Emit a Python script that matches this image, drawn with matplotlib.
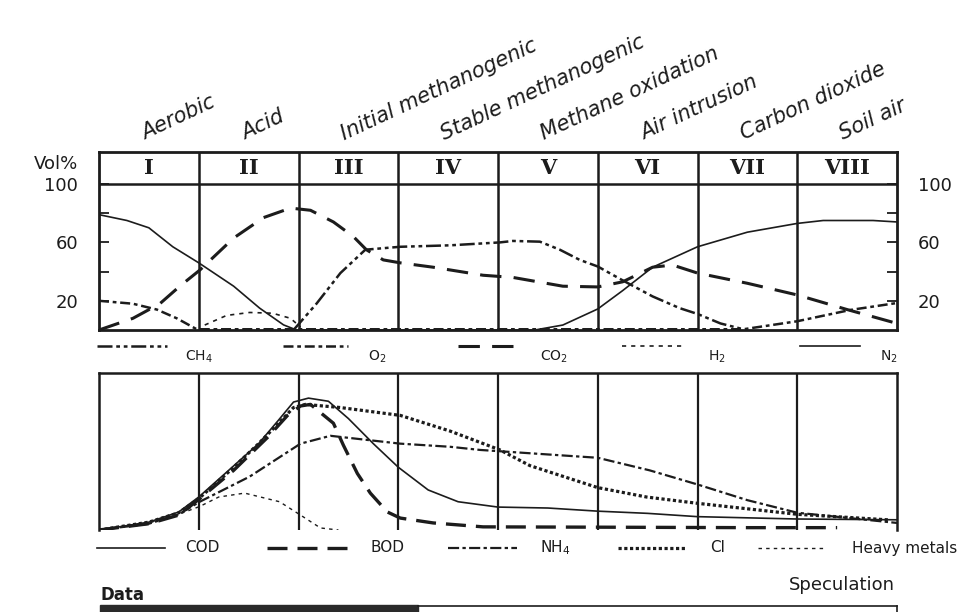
import matplotlib.pyplot as plt
from matplotlib.patches import Rectangle

W, H = 966, 612
INK = '#1c1c1c'

phase_numerals = ["I", "II", "III", "IV", "V", "VI", "VII", "VIII"]
phase_names = ["Aerobic", "Acid", "Initial methanogenic", "Stable methanogenic",
               "Methane oxidation", "Air intrusion", "Carbon dioxide", "Soil air"]

# gas composition (vol%), x in phase units 0..8
ch4_x = [1.95, 2.18, 2.42, 2.67, 3.02, 3.52, 4.02, 4.15, 4.42, 4.62, 4.82, 5.0, 5.25, 5.55, 5.82, 6.0, 6.23, 6.46]
ch4_y = [0, 18, 39, 55, 57, 58, 60, 61, 60.5, 55, 48, 43.5, 34, 23, 15, 11, 4.5, 0.5]

o2_x = [0, 0.34, 0.58, 0.78, 0.98, 6.46, 7.0, 7.53, 8.0]
o2_y = [20, 18, 14, 8, 0.5, 0.5, 6, 13.7, 18.5]

co2_x = [0, 0.34, 0.61, 0.81, 1.01, 1.35, 1.65, 1.92, 2.12, 2.35, 2.55, 2.68, 2.85,
         3.02, 3.35, 3.85, 4.15, 4.65, 5.0, 5.25, 5.55, 5.75, 6.0, 6.5, 7.0, 7.5, 8.0]
co2_y = [0, 8, 18, 30, 41, 63, 77, 83.5, 82, 74, 64, 55, 48,
         46, 43, 37.5, 36, 30, 29.5, 33, 43, 44.5, 39, 32, 24, 14, 4.5]

h2_x = [1.06, 1.28, 1.51, 1.74, 1.92, 2.02]
h2_y = [3.4, 10, 12, 11.5, 8, 2]

n2_x = [0, 0.28, 0.5, 0.74, 1.0, 1.35, 1.61, 1.85, 1.98,
        4.37, 4.65, 5.0, 5.25, 5.55, 6.0, 6.5, 7.0, 7.26, 7.76, 8.0]
n2_y = [79, 75, 70, 57, 46, 30, 15, 3.5, 0,
        0, 3.4, 14.4, 27, 43, 57, 67, 73, 75, 75, 74]

# leachate (relative concentration)
cod_x = [0, 0.5, 0.8, 1.0, 1.3, 1.6, 1.8, 1.95, 2.1, 2.3, 2.5, 2.75, 3.0, 3.3, 3.6, 4.0, 4.5, 5.0, 5.5, 6.0, 7.0, 8.0]
cod_y = [0, 5, 11.5, 21, 38, 55, 70, 81.5, 84, 82, 71, 55, 40, 25.5, 18, 14.6, 14, 12, 10.6, 8.5, 7, 6.5]

bod_x = [0, 0.5, 0.8, 1.01, 1.35, 1.69, 1.89, 2.02, 2.12, 2.35, 2.45, 2.59, 2.72, 2.89, 3.02, 3.35, 3.85, 5.0, 6.5, 7.4]
bod_y = [0, 4, 9.5, 20, 38, 59, 73, 79, 80, 68, 54, 36, 23.5, 11.5, 7.6, 4.5, 2, 1.8, 1.5, 1.5]

nh4_x = [0, 0.5, 0.8, 1.01, 1.51, 2.02, 2.32, 3.02, 3.52, 3.82, 5.0, 5.52, 6.0, 6.5, 7.0, 8.0]
nh4_y = [0, 4, 10, 18, 34, 55, 60, 55, 53, 51, 46, 38, 29, 19, 11, 4.5]

cl_x = [0, 0.5, 0.8, 1.0, 1.3, 1.6, 1.8, 1.95, 2.07, 2.42, 3.02, 3.52, 4.02, 4.32, 5.0, 5.49, 6.0, 7.0, 7.93]
cl_y = [0, 5, 11, 20, 37, 55, 68, 78, 80, 78, 73, 63, 51, 41, 27, 21, 17, 10, 6.4]

hm_x = [0, 0.51, 0.8, 1.01, 1.2, 1.46, 1.81, 2.02, 2.22, 2.4]
hm_y = [0, 5, 10, 15, 21, 23.5, 18, 9.5, 1.3, 0]


def px_box(x0, y0, x1, y1):
    return [x0 / W, 1 - y1 / H, (x1 - x0) / W, (y1 - y0) / H]


fig = plt.figure(figsize=(W / 100, H / 100), dpi=100)
fig.patch.set_facecolor('white')

over = fig.add_axes([0, 0, 1, 1])
over.set_xlim(0, W)
over.set_ylim(H, 0)
over.axis('off')

top_styles = {
    'CH4': dict(dashes=(6, 1.5, 1.5, 1.5, 1.5, 1.5), lw=1.8),
    'O2': dict(dashes=(4, 1.5, 1.5, 1.5), lw=1.8),
    'CO2': dict(dashes=(7, 4), lw=2.2),
    'H2': dict(dashes=(2.5, 3), lw=1.2),
    'N2': dict(ls='-', lw=1.2),
}
bot_styles = {
    'COD': dict(ls='-', lw=1.2),
    'BOD': dict(dashes=(6, 3), lw=2.4),
    'NH4': dict(dashes=(5, 1.5, 1.5, 1.5), lw=1.6),
    'Cl': dict(dashes=(1, 0.8), lw=2.3),
    'HM': dict(dashes=(2.5, 3), lw=1.0),
}

# ---- upper panel: landfill gas ----
ax1 = fig.add_axes(px_box(99, 152, 897, 330))
head = 100 + 32 / 146 * 100
ax1.set_xlim(0, 8)
ax1.set_ylim(0, head)
ax1.axhline(100, color=INK, lw=1.8)
for i in range(1, 8):
    ax1.axvline(i, color=INK, lw=1.8)
for i, r in enumerate(phase_numerals):
    ax1.text(i + 0.5, (100 + head) / 2, r, ha='center', va='center',
             family='DejaVu Serif', fontweight='bold', fontsize=15, color=INK)

ax1.plot(n2_x, n2_y, color=INK, **top_styles['N2'])
ax1.plot(co2_x, co2_y, color=INK, **top_styles['CO2'])
ax1.plot(ch4_x, ch4_y, color=INK, **top_styles['CH4'])
ax1.plot(o2_x, o2_y, color=INK, **top_styles['O2'])
ax1.plot(h2_x, h2_y, color=INK, **top_styles['H2'])

ax1.set_xticks([])
ax1.set_yticks([20, 40, 60, 80, 100])
ax1.set_yticklabels(['20', '', '60', '', '100'])
ax1.tick_params(axis='y', direction='in', length=7, width=1.3, left=True, right=True,
                labelleft=True, labelright=True, pad=15, labelsize=13, colors=INK)
for s in ax1.spines.values():
    s.set_linewidth(2)
    s.set_color(INK)

# ---- lower panel: leachate ----
ax2 = fig.add_axes(px_box(99, 373, 897, 530))
ax2.set_xlim(0, 8)
ax2.set_ylim(0, 100)
for i in range(1, 8):
    ax2.axvline(i, color=INK, lw=1.6)
ax2.plot(cod_x, cod_y, color=INK, **bot_styles['COD'])
ax2.plot(bod_x, bod_y, color=INK, **bot_styles['BOD'])
ax2.plot(nh4_x, nh4_y, color=INK, **bot_styles['NH4'])
ax2.plot(cl_x, cl_y, color=INK, **bot_styles['Cl'])
ax2.plot(hm_x, hm_y, color=INK, **bot_styles['HM'])
ax2.set_xticks([])
ax2.set_yticks([])
ax2.spines['bottom'].set_visible(False)
for k in ['top', 'left', 'right']:
    ax2.spines[k].set_linewidth(1.8)
    ax2.spines[k].set_color(INK)

# ---- phase names ----
for i, name in enumerate(phase_names):
    over.text(145 + i * 99.75, 140, name, rotation=25, rotation_mode='anchor',
              ha='left', va='baseline', style='italic', fontsize=15, color=INK)

over.text(78, 164, 'Vol%', ha='right', va='center', fontsize=13, color=INK)

# ---- legends ----
top_leg = [('CH4', r'CH$_4$', 97, 167, 185), ('O2', r'O$_2$', 283, 348, 368),
           ('CO2', r'CO$_2$', 458, 513, 540), ('H2', r'H$_2$', 622, 685, 708),
           ('N2', r'N$_2$', 800, 860, 880)]
for key, lab, x0, x1, xt in top_leg:
    over.plot([x0, x1], [346, 346], color=INK, **top_styles[key])
    over.text(xt, 357, lab, ha='left', va='center', fontsize=10, color=INK)

bot_leg = [('COD', 'COD', 97, 165, 185), ('BOD', 'BOD', 267, 347, 370),
           ('NH4', r'NH$_4$', 448, 517, 540), ('Cl', 'Cl', 618, 685, 710),
           ('HM', 'Heavy metals', 758, 823, 852)]
for key, lab, x0, x1, xt in bot_leg:
    over.plot([x0, x1], [548, 548], color=INK, **bot_styles[key])
    over.text(xt, 548, lab, ha='left', va='center', fontsize=11, color=INK)

# ---- data / speculation bar ----
over.text(100, 595, 'Data', ha='left', va='center', fontsize=12, fontweight='bold', color=INK)
over.text(895, 585, 'Speculation', ha='right', va='center', fontsize=13, color=INK)
over.add_patch(Rectangle((100, 605), 318, 10, facecolor='#2a2a2a', edgecolor='#2a2a2a'))
over.plot([418, 897], [605.5, 605.5], color=INK, lw=1.2)
over.plot([897, 897], [605.5, 612], color=INK, lw=1.2)

fig.savefig('out.png', dpi=100)
